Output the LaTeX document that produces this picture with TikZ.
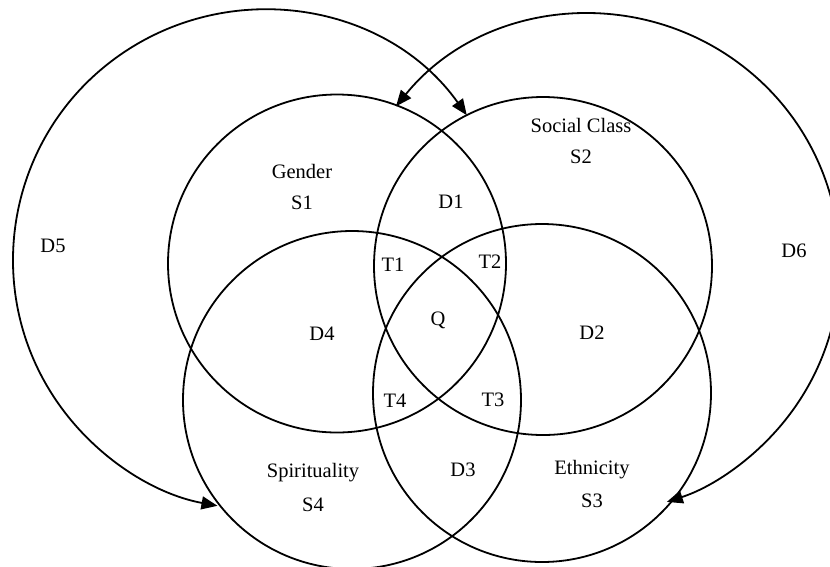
\documentclass[tikz,border=0pt]{standalone}
\usepackage{fontspec}
\setmainfont{Liberation Serif}
\usetikzlibrary{arrows.meta}
\begin{document}
\begin{tikzpicture}[x=1pt,y=-1pt,
  ring/.style={draw=black, line width=1.8pt},
  tip/.tip={Triangle[length=16pt,width=13pt]},
  bigarc/.style={draw=black, line width=1.8pt, tip-tip},
  lbl/.style={font=\fontsize{20.5}{24}\selectfont, inner sep=0pt, align=center}]
\useasboundingbox (0,0) rectangle (830,566);
% centres
\coordinate (c1) at (337,263.5);
\coordinate (c2) at (543,266);
\coordinate (c3) at (542,393);
\coordinate (c4) at (352,400);
\coordinate (c5) at (263,260);
\coordinate (c6) at (590,264);
% four sets
\draw[ring] (c1) circle[radius=169pt];
\draw[ring] (c2) circle[radius=169pt];
\draw[ring] (c3) circle[radius=169pt];
\draw[ring] (c4) circle[radius=169pt];
% big arcs
\coordinate (d5s) at ([shift={(35.4:250pt)}]c5);
\coordinate (d6s) at ([shift={(140.9:250pt)}]c6);
\draw[bigarc] (d5s) arc[start angle=35.4, end angle=259.5, radius=250pt];
\draw[bigarc] (d6s) arc[start angle=140.9, end angle=-72.1, radius=250pt];
% labels
\node[lbl] (gender) at (302,171) {Gender};
\node[lbl] (s1) at (302,203) {S1};
\node[lbl] (social) at (581,125) {Social Class};
\node[lbl] (s2) at (581,157) {S2};
\node[lbl] (ethn) at (592,470) {Ethnicity};
\node[lbl] (s3) at (592,501) {S3};
\node[lbl] (spir) at (313,473) {Spirituality};
\node[lbl] (s4) at (313,505) {S4};
\node[lbl] (d1) at (451,202) {D1};
\node[lbl] (d2) at (592,333) {D2};
\node[lbl] (d3) at (463,470) {D3};
\node[lbl] (d4) at (322,334) {D4};
\node[lbl] (d5) at (53,246) {D5};
\node[lbl] (d6) at (794,251) {D6};
\node[lbl] (t1) at (393,265) {T1};
\node[lbl] (t2) at (490,262) {T2};
\node[lbl] (t3) at (493,400) {T3};
\node[lbl] (t4) at (395,401) {T4};
\node[lbl] (q) at (438,320) {Q};
\end{tikzpicture}
\end{document}
